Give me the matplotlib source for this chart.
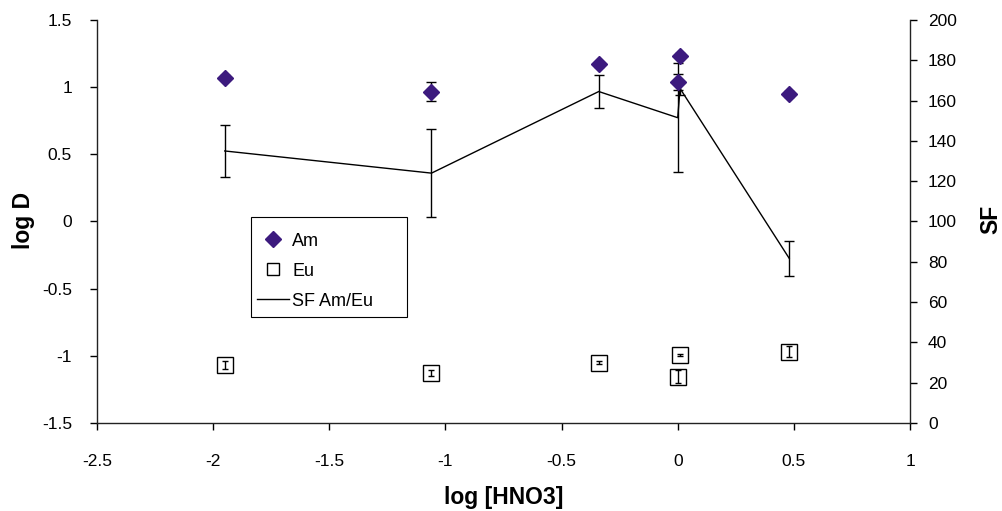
import matplotlib
matplotlib.use("Agg")
import matplotlib.pyplot as plt
from matplotlib.lines import Line2D
from matplotlib.patches import Rectangle

plt.rcParams['font.family'] = ['Liberation Sans', 'DejaVu Sans']

# log [HNO3] for each measurement
log_hno3 = [-1.95, -1.06, -0.34, 0.0, 0.01, 0.48]

# Distribution ratios (log D) with error
am_logd = [1.07, 0.965, 1.17, 1.04, 1.235, 0.95]
am_err = [0.02, 0.07, 0.02, 0.06, 0.02, 0.02]
eu_logd = [-1.067, -1.129, -1.05, -1.154, -0.993, -0.968]
eu_err = [0.032, 0.022, 0.008, 0.045, 0.008, 0.042]

# Separation factor Am/Eu with error
sf = [135, 124, 164.5, 151.5, 166, 81.7]
sf_err = [13, 22, 8.3, 27, 3, 8.7]

x_ticks = [-2.5, -2, -1.5, -1, -0.5, 0, 0.5, 1]
x_ticklabels = ['-2.5', '-2', '-1.5', '-1', '-0.5', '0', '0.5', '1']
y_ticks = [-1.5, -1, -0.5, 0, 0.5, 1, 1.5]
y_ticklabels = ['-1.5', '-1', '-0.5', '0', '0.5', '1', '1.5']
sf_ticks = list(range(0, 201, 20))

am_color = '#3c1a7e'

fig = plt.figure(figsize=(10.03, 5.11), dpi=100)
ax = fig.add_axes([0.0967, 0.1722, 0.8106, 0.7887])
ax2 = ax.twinx()

# SF line on the secondary axis
ax2.errorbar(log_hno3, sf, yerr=sf_err, color='black', lw=1.0,
             elinewidth=1.0, capsize=3.5, capthick=1.0, zorder=2)

# Eu open squares, with their error bars drawn inside the squares
ax.plot(log_hno3, eu_logd, 's', ms=11.3, mfc='white', mec='black',
        mew=1.0, ls='none', zorder=3)
ax.errorbar(log_hno3, eu_logd, yerr=eu_err, fmt='none', ecolor='black',
            elinewidth=1.0, capsize=2.5, capthick=1.0, zorder=3.5)
# Am filled diamonds
ax.errorbar(log_hno3, am_logd, yerr=am_err, fmt='D', ms=8.6, mfc=am_color,
            mec=am_color, ecolor='black', elinewidth=1.0,
            capsize=3.5, capthick=1.0, zorder=4)

ax.set_zorder(ax2.get_zorder() + 1)
ax.patch.set_visible(False)

ax.set_xlim(-2.5, 1)
ax.set_ylim(-1.5, 1.5)
ax2.set_ylim(0, 200)

ax.set_xticks(x_ticks)
ax.set_xticklabels(x_ticklabels)
ax.set_yticks(y_ticks)
ax.set_yticklabels(y_ticklabels)
ax2.set_yticks(sf_ticks)

for a in (ax, ax2):
    a.spines['top'].set_visible(False)
    for s in a.spines.values():
        s.set_linewidth(1.0)
        s.set_color('#222222')
ax.spines['right'].set_visible(False)
ax2.spines['left'].set_visible(False)
ax2.spines['bottom'].set_visible(False)

ax.tick_params(axis='x', direction='out', length=5, width=1, pad=17, labelsize=12.5)
ax.tick_params(axis='y', direction='out', length=5, width=1, pad=13, labelsize=12.5)
ax2.tick_params(axis='y', direction='out', length=5, width=1, pad=8, labelsize=12.5)

fig.text(0.5017, 0.027, 'log [HNO3]', ha='center', va='center',
         fontsize=16.5, fontweight='bold')
fig.text(0.023, 0.569, 'log D', ha='center', va='center', rotation=90,
         fontsize=16.5, fontweight='bold')
fig.text(0.988, 0.571, 'SF', ha='center', va='center', rotation=90,
         fontsize=16.5, fontweight='bold')

# Legend: entries via matplotlib, plain rectangular frame around them
handles = [
    Line2D([], [], marker='D', ls='none', ms=8.6, mfc=am_color, mec=am_color),
    Line2D([], [], marker='s', ls='none', ms=9, mfc='white', mec='black', mew=1.0),
    Line2D([], [], color='black', lw=1.0),
]
leg = ax.legend(handles, ['Am', 'Eu', 'SF Am/Eu'], loc='upper left',
                bbox_to_anchor=(0.1968, 0.472), borderaxespad=0, borderpad=0,
                fontsize=13, frameon=False, handlelength=1.75,
                handletextpad=0.2, labelspacing=0.72)
ax.add_patch(Rectangle((0.1894, 0.263), 0.1919, 0.248, transform=ax.transAxes,
                       fill=True, facecolor='white', edgecolor='black',
                       lw=0.8, zorder=5))
leg.set_zorder(6)

fig.savefig('out.png', dpi=100)
